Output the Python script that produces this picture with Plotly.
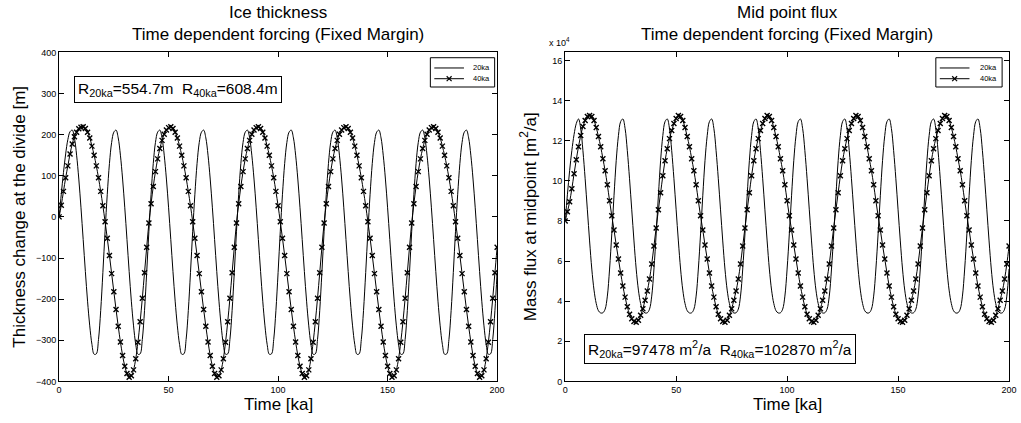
import plotly.graph_objects as go

# Time axis [ka], one sample per ka
time_ka = list(range(0, 201))

# Ice thickness change at the divide [m]
thick_20ka = [
    0, 55, 108, 153, 188, 207, 211, 192, 150, 92, 22, -55, -133, -205, -265, -310, -334, -333, -298, -228,
    -135, -35, 55, 130, 181, 206, 211, 192, 150, 92, 22, -55, -133, -205, -265, -310, -334, -333, -298, -228,
    -135, -35, 55, 130, 181, 206, 211, 192, 150, 92, 22, -55, -133, -205, -265, -310, -334, -333, -298, -228,
    -135, -35, 55, 130, 181, 206, 211, 192, 150, 92, 22, -55, -133, -205, -265, -310, -334, -333, -298, -228,
    -135, -35, 55, 130, 181, 206, 211, 192, 150, 92, 22, -55, -133, -205, -265, -310, -334, -333, -298, -228,
    -135, -35, 55, 130, 181, 206, 211, 192, 150, 92, 22, -55, -133, -205, -265, -310, -334, -333, -298, -228,
    -135, -35, 55, 130, 181, 206, 211, 192, 150, 92, 22, -55, -133, -205, -265, -310, -334, -333, -298, -228,
    -135, -35, 55, 130, 181, 206, 211, 192, 150, 92, 22, -55, -133, -205, -265, -310, -334, -333, -298, -228,
    -135, -35, 55, 130, 181, 206, 211, 192, 150, 92, 22, -55, -133, -205, -265, -310, -334, -333, -298, -228,
    -135, -35, 55, 130, 181, 206, 211, 192, 150, 92, 22, -55, -133, -205, -265, -310, -334, -333, -298, -228,
    -135,
]

thick_40ka = [
    0, 28, 62, 95, 124, 153, 177, 195, 206, 214, 218, 219, 215, 206, 192, 172, 150, 124, 95, 62,
    27, -12, -52, -94, -138, -182, -225, -266, -304, -337, -363, -381, -390, -386, -372, -345, -305, -255, -198, -136,
    -74, -15, 32, 74, 110, 141, 166, 186, 201, 211, 217, 219, 215, 206, 192, 172, 150, 124, 95, 62,
    27, -12, -52, -94, -138, -182, -225, -266, -304, -337, -363, -381, -390, -386, -372, -345, -305, -255, -198, -136,
    -74, -15, 32, 74, 110, 141, 166, 186, 201, 211, 217, 219, 215, 206, 192, 172, 150, 124, 95, 62,
    27, -12, -52, -94, -138, -182, -225, -266, -304, -337, -363, -381, -390, -386, -372, -345, -305, -255, -198, -136,
    -74, -15, 32, 74, 110, 141, 166, 186, 201, 211, 217, 219, 215, 206, 192, 172, 150, 124, 95, 62,
    27, -12, -52, -94, -138, -182, -225, -266, -304, -337, -363, -381, -390, -386, -372, -345, -305, -255, -198, -136,
    -74, -15, 32, 74, 110, 141, 166, 186, 201, 211, 217, 219, 215, 206, 192, 172, 150, 124, 95, 62,
    27, -12, -52, -94, -138, -182, -225, -266, -304, -337, -363, -381, -390, -386, -372, -345, -305, -255, -198, -136,
    -74,
]

# Mass flux at the mid point [x 10^4 m^2/a]
flux_20ka = [
    8.0, 9.3, 10.5, 11.5, 12.3, 12.85, 13.08, 12.6, 11.5, 10.1, 8.55, 7.0, 5.6, 4.55, 3.88, 3.52, 3.41, 3.42, 3.6, 4.25,
    5.6, 7.35, 9.25, 11.0, 12.25, 12.95, 13.08, 12.6, 11.5, 10.1, 8.55, 7.0, 5.6, 4.55, 3.88, 3.52, 3.41, 3.42, 3.6, 4.25,
    5.6, 7.35, 9.25, 11.0, 12.25, 12.95, 13.08, 12.6, 11.5, 10.1, 8.55, 7.0, 5.6, 4.55, 3.88, 3.52, 3.41, 3.42, 3.6, 4.25,
    5.6, 7.35, 9.25, 11.0, 12.25, 12.95, 13.08, 12.6, 11.5, 10.1, 8.55, 7.0, 5.6, 4.55, 3.88, 3.52, 3.41, 3.42, 3.6, 4.25,
    5.6, 7.35, 9.25, 11.0, 12.25, 12.95, 13.08, 12.6, 11.5, 10.1, 8.55, 7.0, 5.6, 4.55, 3.88, 3.52, 3.41, 3.42, 3.6, 4.25,
    5.6, 7.35, 9.25, 11.0, 12.25, 12.95, 13.08, 12.6, 11.5, 10.1, 8.55, 7.0, 5.6, 4.55, 3.88, 3.52, 3.41, 3.42, 3.6, 4.25,
    5.6, 7.35, 9.25, 11.0, 12.25, 12.95, 13.08, 12.6, 11.5, 10.1, 8.55, 7.0, 5.6, 4.55, 3.88, 3.52, 3.41, 3.42, 3.6, 4.25,
    5.6, 7.35, 9.25, 11.0, 12.25, 12.95, 13.08, 12.6, 11.5, 10.1, 8.55, 7.0, 5.6, 4.55, 3.88, 3.52, 3.41, 3.42, 3.6, 4.25,
    5.6, 7.35, 9.25, 11.0, 12.25, 12.95, 13.08, 12.6, 11.5, 10.1, 8.55, 7.0, 5.6, 4.55, 3.88, 3.52, 3.41, 3.42, 3.6, 4.25,
    5.6, 7.35, 9.25, 11.0, 12.25, 12.95, 13.08, 12.6, 11.5, 10.1, 8.55, 7.0, 5.6, 4.55, 3.88, 3.52, 3.41, 3.42, 3.6, 4.25,
    5.6,
]

flux_40ka = [
    8.0, 8.45, 8.95, 9.6, 10.35, 11.05, 11.7, 12.25, 12.7, 13.0, 13.2, 13.25, 13.2, 13.0, 12.65, 12.2, 11.7, 11.1, 10.5, 9.8,
    9.0, 8.25, 7.55, 6.8, 6.1, 5.4, 4.75, 4.2, 3.72, 3.35, 3.12, 2.98, 2.95, 3.05, 3.3, 3.62, 4.05, 4.5, 5.1, 5.85,
    6.75, 7.65, 8.55, 9.4, 10.25, 11.0, 11.6, 12.1, 12.5, 12.85, 13.1, 13.25, 13.2, 13.0, 12.65, 12.2, 11.7, 11.1, 10.5, 9.8,
    9.0, 8.25, 7.55, 6.8, 6.1, 5.4, 4.75, 4.2, 3.72, 3.35, 3.12, 2.98, 2.95, 3.05, 3.3, 3.62, 4.05, 4.5, 5.1, 5.85,
    6.75, 7.65, 8.55, 9.4, 10.25, 11.0, 11.6, 12.1, 12.5, 12.85, 13.1, 13.25, 13.2, 13.0, 12.65, 12.2, 11.7, 11.1, 10.5, 9.8,
    9.0, 8.25, 7.55, 6.8, 6.1, 5.4, 4.75, 4.2, 3.72, 3.35, 3.12, 2.98, 2.95, 3.05, 3.3, 3.62, 4.05, 4.5, 5.1, 5.85,
    6.75, 7.65, 8.55, 9.4, 10.25, 11.0, 11.6, 12.1, 12.5, 12.85, 13.1, 13.25, 13.2, 13.0, 12.65, 12.2, 11.7, 11.1, 10.5, 9.8,
    9.0, 8.25, 7.55, 6.8, 6.1, 5.4, 4.75, 4.2, 3.72, 3.35, 3.12, 2.98, 2.95, 3.05, 3.3, 3.62, 4.05, 4.5, 5.1, 5.85,
    6.75, 7.65, 8.55, 9.4, 10.25, 11.0, 11.6, 12.1, 12.5, 12.85, 13.1, 13.25, 13.2, 13.0, 12.65, 12.2, 11.7, 11.1, 10.5, 9.8,
    9.0, 8.25, 7.55, 6.8, 6.1, 5.4, 4.75, 4.2, 3.72, 3.35, 3.12, 2.98, 2.95, 3.05, 3.3, 3.62, 4.05, 4.5, 5.1, 5.85,
    6.75,
]

series_names = ["20ka", "40ka"]
x_ticks = [0, 50, 100, 150, 200]
thick_ticks = [-400, -300, -200, -100, 0, 100, 200, 300, 400]
flux_ticks = [0, 2, 4, 6, 8, 10, 12, 14, 16]

FONT = "Liberation Sans, Arial, Helvetica, sans-serif"
W, H = 1021, 423


def px_x(p):
    return p / W


def px_y(p):
    return 1 - p / H


line_20 = dict(color="black", width=1, shape="spline")
line_40 = dict(color="black", width=1, shape="spline")
mark_40 = dict(symbol="x-thin", size=5, color="black", line=dict(color="black", width=1.4))

fig = go.Figure()
fig.add_trace(go.Scatter(x=time_ka, y=thick_20ka, mode="lines", name=series_names[0],
                         line=line_20, xaxis="x", yaxis="y"))
fig.add_trace(go.Scatter(x=time_ka, y=thick_40ka, mode="lines+markers", name=series_names[1],
                         line=line_40, marker=mark_40, xaxis="x", yaxis="y"))
fig.add_trace(go.Scatter(x=time_ka, y=flux_20ka, mode="lines", name=series_names[0],
                         line=line_20, xaxis="x2", yaxis="y2"))
fig.add_trace(go.Scatter(x=time_ka, y=flux_40ka, mode="lines+markers", name=series_names[1],
                         line=line_40, marker=mark_40, xaxis="x2", yaxis="y2"))

axis_style = dict(showgrid=False, zeroline=False, showline=True, linecolor="black",
                  linewidth=1.2, mirror="ticks", ticks="inside", ticklen=5,
                  tickcolor="black", tickwidth=1, tickfont=dict(size=9, color="black", family=FONT))

y_dom = [px_y(385.5), px_y(48.5)]
left_dom = [px_x(56.7), px_x(499.5)]
right_dom = [px_x(568.3), px_x(1017.0)]

fig.update_layout(
    width=W, height=H,
    margin=dict(l=0, r=0, t=0, b=0),
    paper_bgcolor="white", plot_bgcolor="white",
    font=dict(family=FONT, color="black"),
    xaxis=dict(domain=left_dom, range=[0, 200], tickvals=x_ticks, anchor="y", **axis_style),
    yaxis=dict(domain=y_dom, range=[-400, 400], tickvals=thick_ticks, anchor="x", **axis_style),
    xaxis2=dict(domain=right_dom, range=[0, 200], tickvals=x_ticks, anchor="y2", **axis_style),
    yaxis2=dict(domain=y_dom, range=[0, 16.4], tickvals=flux_ticks, anchor="x2", **axis_style),
    showlegend=False,
)

big = dict(size=17, family=FONT, color="black")
ann = []
shapes = []
left_c = px_x((56.7 + 499.5) / 2)
right_c = px_x((568.3 + 1017.0) / 2)
for cx, l1 in [(left_c, "Ice thickness"), (right_c, "Mid point flux")]:
    ann.append(dict(x=cx, y=px_y(18.5), xref="paper", yref="paper",
                    text=l1 + "<br>Time dependent forcing (Fixed Margin)",
                    showarrow=False, font=big, xanchor="center", yanchor="middle"))
    ann.append(dict(x=cx, y=px_y(409.5), xref="paper", yref="paper", text="Time [ka]",
                    showarrow=False, font=big, xanchor="center", yanchor="middle"))

ann.append(dict(x=px_x(17), y=px_y(217), xref="paper", yref="paper",
                text="Thickness change at the divide [m]", textangle=-90,
                showarrow=False, font=big, xanchor="center", yanchor="middle"))
ann.append(dict(x=px_x(531), y=px_y(217), xref="paper", yref="paper",
                text="Mass flux at midpoint [m<sup>2</sup>/a]", textangle=-90,
                showarrow=False, font=big, xanchor="center", yanchor="middle"))

ann.append(dict(x=px_x(563), y=px_y(38), xref="paper", yref="paper",
                text="x 10<sup>4</sup>", showarrow=False,
                font=dict(size=9, family=FONT, color="black"), xanchor="center", yanchor="middle"))

box = dict(size=15.5, family=FONT, color="black")
ann.append(dict(x=px_x(72), y=px_y(73), xref="paper", yref="paper",
                text="R<sub>20ka</sub>=554.7m&nbsp;&nbsp;R<sub>40ka</sub>=608.4m",
                showarrow=False, font=box, xanchor="left", yanchor="top", align="left",
                bordercolor="black", borderwidth=1, borderpad=3, bgcolor="white"))
ann.append(dict(x=px_x(587), y=px_y(337), xref="paper", yref="paper",
                text="R<sub>20ka</sub>=97478 m<sup>2</sup>/a&nbsp;&nbsp;R<sub>40ka</sub>=102870 m<sup>2</sup>/a",
                showarrow=False, font=box, xanchor="left", yanchor="top", align="left",
                bordercolor="black", borderwidth=1, borderpad=3, bgcolor="white"))

# Boxed legends in the upper right corner of each panel
leg_font = dict(size=7.5, family=FONT, color="black")
for x0, x1 in [(432, 497), (943, 1010)]:
    y0, y1 = 54, 84
    shapes.append(dict(type="rect", xref="paper", yref="paper",
                       x0=px_x(x0), x1=px_x(x1), y0=px_y(y1), y1=px_y(y0),
                       line=dict(color="black", width=1), fillcolor="white", layer="above"))
    ls, le = x0 + 4, x0 + 34
    for row, (yy, name) in enumerate(zip([64.5, 75.5], series_names)):
        shapes.append(dict(type="line", xref="paper", yref="paper",
                           x0=px_x(ls), x1=px_x(le), y0=px_y(yy), y1=px_y(yy),
                           line=dict(color="black", width=1), layer="above"))
        if row == 1:
            mx = (ls + le) / 2
            for dy in (-2.5, 2.5):
                shapes.append(dict(type="line", xref="paper", yref="paper",
                                   x0=px_x(mx - 2.5), x1=px_x(mx + 2.5),
                                   y0=px_y(yy - dy), y1=px_y(yy + dy),
                                   line=dict(color="black", width=1.2), layer="above"))
        ann.append(dict(x=px_x(x1 - 3), y=px_y(yy), xref="paper", yref="paper", text=name,
                        showarrow=False, font=leg_font, xanchor="right", yanchor="middle"))

fig.update_layout(annotations=ann, shapes=shapes)

fig.write_html("out.html")
